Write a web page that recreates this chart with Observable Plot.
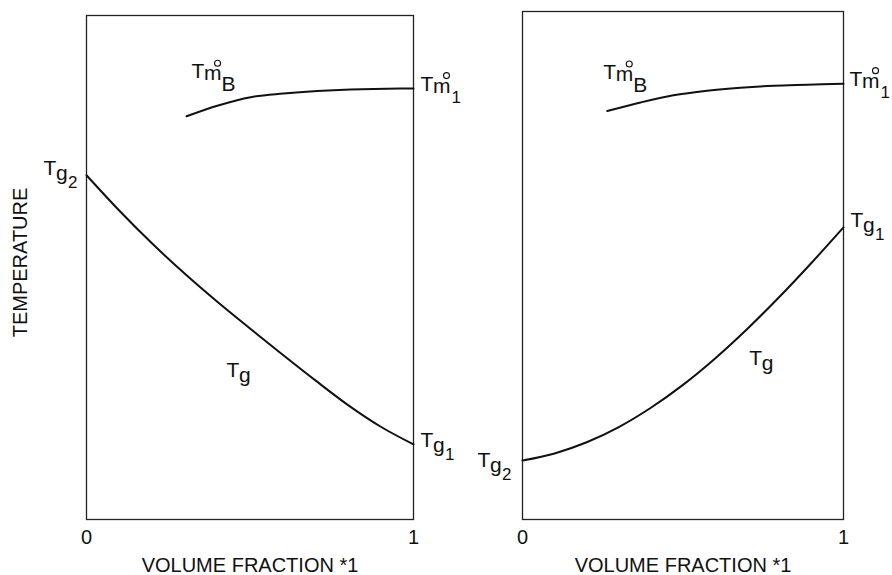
<!DOCTYPE html>
<html>
<head>
<meta charset="utf-8">
<script src="https://cdn.jsdelivr.net/npm/d3@7"></script>
<script src="https://cdn.jsdelivr.net/npm/@observablehq/plot@0.6"></script>
<style>
  body { margin: 0; background: #fff; }
  #chart { position: relative; width: 892px; height: 575px; background: #fff; }
  #chart svg { position: absolute; top: 0; overflow: visible; }
</style>
</head>
<body>
<div id="chart"></div>
<script>
// Left diagram: Tg falls as component 1 is added (Tg2 > Tg1)
const leftTgFrac = [0, 0.1, 0.2, 0.3, 0.4, 0.5, 0.6, 0.7, 0.8, 0.9, 1];
const leftTg     = [68.3, 61.3, 54.8, 48.8, 43.2, 37.9, 32.7, 27.6, 22.7, 18.4, 14.9];
const leftTmFrac = [0.306, 0.4, 0.502, 0.602, 0.706, 0.807, 0.96, 1];
const leftTm     = [80.0, 82.1, 83.8, 84.5, 85.0, 85.3, 85.5, 85.5];

// Right diagram: Tg rises as component 1 is added (Tg1 > Tg2)
const rightTgFrac = [0, 0.1, 0.2, 0.3, 0.4, 0.5, 0.6, 0.7, 0.8, 0.9, 1];
const rightTg     = [11.6, 13.0, 15.2, 18.2, 22.0, 26.5, 31.7, 37.5, 43.8, 50.5, 57.5];
const rightTmFrac = [0.264, 0.368, 0.47, 0.575, 0.679, 0.782, 0.887, 1];
const rightTm     = [80.4, 82.1, 83.5, 84.4, 85.0, 85.4, 85.6, 85.8];

const xTicks = [0, 1];
const xTitle = "VOLUME FRACTION *1";
const yTitle = "TEMPERATURE";

const FONT = '"Liberation Sans", Arial, Helvetica, sans-serif';

// Curve labels built from pieces: base letter, lowered letter, subscript
const tgParts = sub => [
  {t: "T", dx: 0, dy: 0, size: 21},
  {t: "g", dx: 12.5, dy: 5, size: 21},
  ...(sub ? [{t: sub, dx: 24.5, dy: 13, size: 17}] : [])
];
const tmParts = sub => [
  {t: "T", dx: 0, dy: 0, size: 21},
  {t: "m", dx: 12.5, dy: 2, size: 21},
  sub === "B" ? {t: sub, dx: 30, dy: 13, size: 21} : {t: sub, dx: 31, dy: 12, size: 17}
];

function labelMarks(x, y, parts, dx, dy, ring) {
  const marks = parts.map(p => Plot.text([{x, y}], {
    x: "x", y: "y", text: () => p.t,
    dx: dx + p.dx, dy: dy + p.dy,
    fontSize: p.size, textAnchor: "start", lineAnchor: "bottom", fill: "#111"
  }));
  // small degree ring above the "m"
  if (ring) marks.push(Plot.dot([{x, y}], {
    x: "x", y: "y", r: 3, fill: "none", stroke: "#111", strokeWidth: 1.1,
    dx: dx + 26, dy: dy - 15
  }));
  return marks;
}

const pts = (xs, ys) => xs.map((x, i) => ({x, y: ys[i]}));

function panel({tgX, tgY, tmX, tmY, width, marginLeft, marginRight, marginTop, labels, yLabel}) {
  const last = tgX.length - 1;
  const tmLast = tmX.length - 1;
  const mid = labels.midIndex;
  return Plot.plot({
    width, height: 575,
    marginLeft, marginRight, marginTop, marginBottom: 56,
    x: {domain: [0, 1]},
    y: {domain: [0, 100], axis: null},
    style: {fontFamily: FONT, background: "transparent", overflow: "visible", color: "#111"},
    marks: [
      Plot.frame({stroke: "#222", strokeWidth: 1.3}),
      Plot.axisX(xTicks, {tickSize: 0, tickPadding: 10, fontSize: 20, tickFormat: d => String(d), label: null}),
      Plot.line(pts(tgX, tgY), {x: "x", y: "y", curve: "catmull-rom", stroke: "#111", strokeWidth: 2}),
      Plot.line(pts(tmX, tmY), {x: "x", y: "y", curve: "catmull-rom", stroke: "#111", strokeWidth: 2}),
      Plot.text([xTitle], {frameAnchor: "bottom", dy: 38, lineAnchor: "top", textAnchor: "middle", fontSize: 20, fill: "#111"}),
      ...(yLabel ? [Plot.text([yTitle], {frameAnchor: "left", rotate: -90, textAnchor: "middle", lineAnchor: "middle", dx: -66, dy: -5, fontSize: 20, fill: "#111"})] : []),
      ...labelMarks(tgX[0], tgY[0], tgParts("2"), ...labels.tg2, false),
      ...labelMarks(tgX[last], tgY[last], tgParts("1"), ...labels.tg1, false),
      ...labelMarks(tmX[tmLast], tmY[tmLast], tmParts("1"), ...labels.tm1, true),
      ...labelMarks(tmX[0], tmY[0], tmParts("B"), ...labels.tmB, true),
      ...labelMarks(tgX[mid], tgY[mid], tgParts(null), ...labels.tg, false)
    ]
  });
}

const left = panel({
  tgX: leftTgFrac, tgY: leftTg, tmX: leftTmFrac, tmY: leftTm,
  width: 446, marginLeft: 86, marginRight: 33, marginTop: 15, yLabel: true,
  labels: {midIndex: 5, tg2: [-43, 0], tg1: [7, 3], tm1: [7, 2], tmB: [5, -38], tg: [-23.5, 48.5]}
});
const right = panel({
  tgX: rightTgFrac, tgY: rightTg, tmX: rightTmFrac, tmY: rightTm,
  width: 446, marginLeft: 76, marginRight: 49, marginTop: 11, yLabel: false,
  labels: {midIndex: 7, tg2: [-45, 6], tg1: [7, 0], tm1: [6, 2], tmB: [-4, -32], tg: [2, 36]}
});
left.style.left = "0px";
right.style.left = "446px";
document.getElementById("chart").append(left, right);
</script>
</body>
</html>
